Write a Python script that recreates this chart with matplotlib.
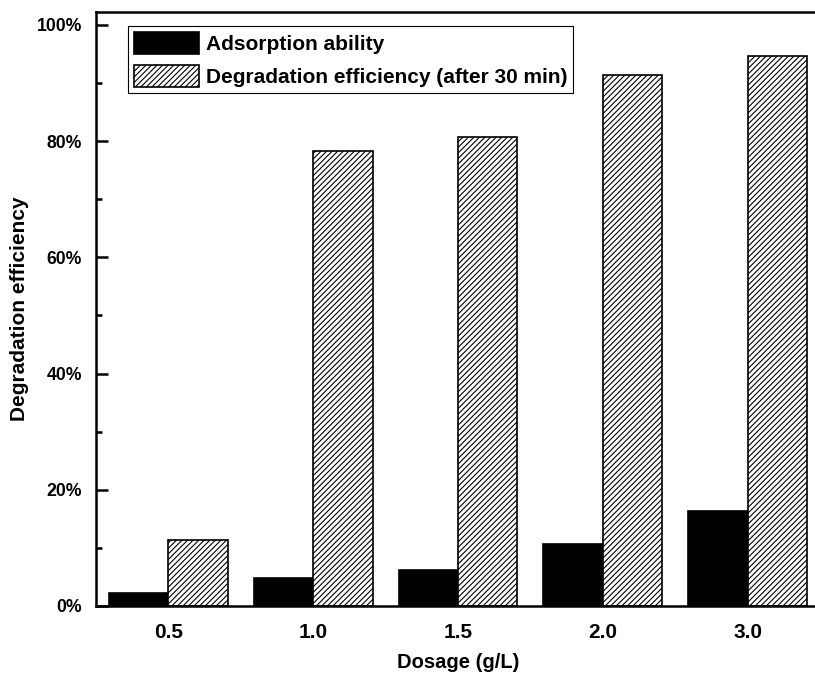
import matplotlib
matplotlib.use('Agg')
import matplotlib.pyplot as plt
import numpy as np

dosage = ['0.5', '1.0', '1.5', '2.0', '3.0']
adsorption = [2.2, 4.8, 6.2, 10.6, 16.4]
degradation = [11.4, 78.3, 80.7, 91.4, 94.7]

plt.rcParams['font.family'] = 'Liberation Sans'
plt.rcParams['font.weight'] = 'bold'
plt.rcParams['hatch.linewidth'] = 0.8

fig = plt.figure(figsize=(8.15, 6.73), dpi=100)
ax = fig.add_axes([96 / 815, 1 - 606 / 673, (820 - 96) / 815, (606 - 12) / 673])

x = np.arange(len(dosage))
w = 0.41
ax.bar(x - w / 2, adsorption, w, color='black', edgecolor='black', linewidth=1.2,
       label='Adsorption ability')
ax.bar(x + w / 2, degradation, w, color='white', edgecolor='black', linewidth=1.2,
       hatch='//////', label='Degradation efficiency (after 30 min)')

ax.set_xlim(-0.5, 4.5)
ax.set_ylim(0, 102.2)
ax.set_xticks(x)
ax.set_xticklabels(dosage)
ax.set_yticks([0, 20, 40, 60, 80, 100])
ax.set_yticklabels(['0%', '20%', '40%', '60%', '80%', '100%'])
ax.set_yticks([10, 30, 50, 70, 90], minor=True)
ax.tick_params(axis='y', which='major', direction='in', length=8.5, width=1.8, labelsize=12.7, pad=10)
ax.tick_params(axis='y', which='minor', direction='in', length=4.5, width=1.8)
ax.tick_params(axis='x', length=0, labelsize=15, pad=12)
for s in ax.spines.values():
    s.set_linewidth(1.8)

ax.set_xlabel('Dosage (g/L)', fontsize=14.5, fontweight='bold')
ax.set_ylabel('Degradation efficiency', fontsize=15, fontweight='bold')
ax.xaxis.set_label_coords(0.5, -0.079)
ax.yaxis.set_label_coords(-0.092, 0.5)

leg = ax.legend(loc='upper left', bbox_to_anchor=((128 - 96) / 724, 1 - (26 - 12) / 594),
                prop={'size': 15, 'weight': 'bold'}, fancybox=False, edgecolor='black',
                framealpha=1, handlelength=3.1, handleheight=1.25, handletextpad=0.33,
                borderpad=0.3, labelspacing=0.5, borderaxespad=0)
leg.get_frame().set_linewidth(0.8)

plt.savefig('out.png', dpi=100)
